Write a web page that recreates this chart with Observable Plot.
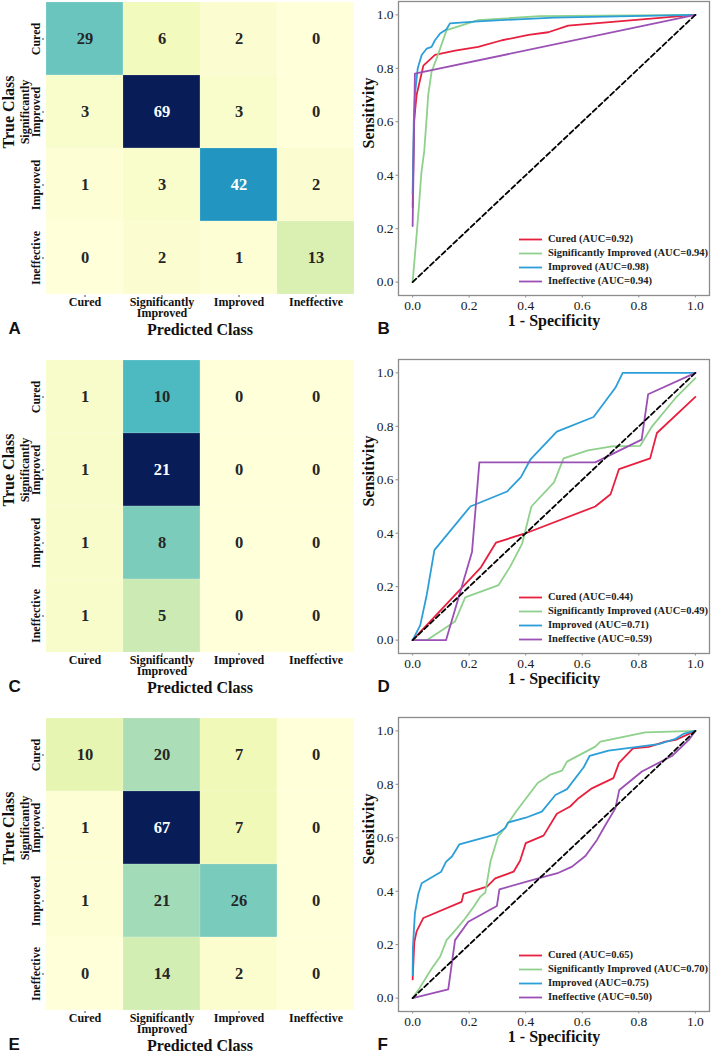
<!DOCTYPE html>
<html>
<head>
<meta charset="utf-8">
<script src="https://cdn.jsdelivr.net/npm/d3@7"></script>
<script src="https://cdn.jsdelivr.net/npm/@observablehq/plot@0.6"></script>
<style>
  body { margin: 0; background: #fff; }
  #page { position: relative; width: 711px; height: 1052px; overflow: hidden; background: #fff;
          font-family: "Liberation Serif", "Times New Roman", serif; }
  .panel { position: absolute; }
  .legend { position: absolute; font-family: "Liberation Serif", "Times New Roman", serif;
            font-weight: bold; font-size: 10.5px; color: #222; }
  .legend .row { position: absolute; left: 0; height: 14px; white-space: nowrap; }
  .legend svg { position: absolute; left: 0; top: 6px; }
  .legend span { position: absolute; left: 29px; top: 0; line-height: 14px; }
</style>
</head>
<body>
<div id="page"></div>
<script>
// Class names, shared by both axes of every confusion matrix and by the ROC legends
const classes = ["Cured", "Significantly Improved", "Improved", "Ineffective"];
const panelLetters = ["A", "B", "C", "D", "E", "F"];

// Confusion matrices (rows = true class, columns = predicted class)
const cmA = [[29, 6, 2, 0], [3, 69, 3, 0], [1, 3, 42, 2], [0, 2, 1, 13]];
const cmC = [[1, 10, 0, 0], [1, 21, 0, 0], [1, 8, 0, 0], [1, 5, 0, 0]];
const cmE = [[10, 20, 7, 0], [1, 67, 7, 0], [1, 21, 26, 0], [0, 14, 2, 0]];

// AUC per class for each ROC panel
const aucB = [0.92, 0.94, 0.98, 0.94];
const aucD = [0.44, 0.49, 0.71, 0.59];
const aucF = [0.65, 0.70, 0.75, 0.50];

// ROC curves as [1 - specificity, sensitivity] pairs
const rocBCured = [[0, 0.28], [0.005, 0.6], [0.014, 0.70], [0.038, 0.81], [0.079, 0.85], [0.15, 0.866], [0.232, 0.88], [0.316, 0.905], [0.41, 0.925], [0.48, 0.935], [0.55, 0.96], [1, 1]];
const rocBSig = [[0, 0], [0.012, 0.15], [0.022, 0.28], [0.031, 0.41], [0.041, 0.49], [0.05, 0.62], [0.055, 0.70], [0.067, 0.787], [0.085, 0.837], [0.12, 0.943], [0.232, 0.98], [0.45, 0.995], [1, 1]];
const rocBImp = [[0, 0.33], [0.004, 0.6], [0.008, 0.70], [0.018, 0.80], [0.032, 0.85], [0.05, 0.874], [0.067, 0.88], [0.079, 0.905], [0.097, 0.93], [0.12, 0.946], [0.132, 0.968], [0.232, 0.976], [0.5, 0.99], [1, 1]];
const rocBIneff = [[0, 0.21], [0.008, 0.78], [1, 1]];

const rocDCured = [[0, 0], [0.24, 0.27], [0.295, 0.365], [0.40, 0.40], [0.646, 0.5], [0.70, 0.546], [0.73, 0.64], [0.84, 0.68], [0.864, 0.775], [1, 0.91]];
const rocDSig = [[0, 0], [0.05, 0], [0.15, 0.07], [0.186, 0.16], [0.304, 0.206], [0.345, 0.275], [0.387, 0.36], [0.42, 0.5], [0.5, 0.59], [0.534, 0.68], [0.62, 0.71], [0.705, 0.725], [0.805, 0.727], [0.847, 0.8], [0.93, 0.906], [1, 0.98]];
const rocDImp = [[0, 0], [0.027, 0.056], [0.05, 0.17], [0.077, 0.337], [0.204, 0.5], [0.334, 0.556], [0.383, 0.61], [0.416, 0.675], [0.51, 0.78], [0.64, 0.835], [0.717, 0.944], [0.743, 1], [1, 1]];
const rocDIneff = [[0, 0], [0.118, 0], [0.21, 0.33], [0.236, 0.665], [0.646, 0.665], [0.81, 0.75], [0.833, 0.92], [1, 1]];

const rocFCured = [[0, 0.07], [0.006, 0.21], [0.014, 0.25], [0.038, 0.30], [0.173, 0.36], [0.18, 0.39], [0.263, 0.417], [0.292, 0.448], [0.357, 0.473], [0.38, 0.514], [0.40, 0.58], [0.463, 0.608], [0.51, 0.69], [0.557, 0.717], [0.587, 0.748], [0.634, 0.785], [0.71, 0.823], [0.73, 0.88], [0.78, 0.935], [0.835, 0.94], [0.894, 0.96], [0.93, 0.966], [1, 1]];
const rocFSig = [[0, 0], [0.02, 0.03], [0.067, 0.11], [0.097, 0.155], [0.12, 0.217], [0.156, 0.26], [0.185, 0.297], [0.216, 0.342], [0.24, 0.38], [0.257, 0.395], [0.275, 0.51], [0.302, 0.604], [0.322, 0.63], [0.366, 0.698], [0.443, 0.806], [0.469, 0.823], [0.485, 0.835], [0.528, 0.851], [0.546, 0.885], [0.646, 0.941], [0.664, 0.96], [0.823, 0.994], [1, 1]];
const rocFImp = [[0, 0.086], [0.001, 0.19], [0.008, 0.317], [0.02, 0.39], [0.032, 0.43], [0.101, 0.473], [0.118, 0.51], [0.139, 0.53], [0.165, 0.575], [0.298, 0.614], [0.328, 0.637], [0.337, 0.657], [0.4, 0.675], [0.457, 0.698], [0.505, 0.76], [0.546, 0.782], [0.605, 0.864], [0.626, 0.906], [0.693, 0.926], [0.87, 0.95], [0.93, 0.97], [0.96, 0.99], [1, 1]];
const rocFIneff = [[0, 0], [0.126, 0.033], [0.15, 0.217], [0.197, 0.286], [0.298, 0.345], [0.307, 0.407], [0.457, 0.452], [0.516, 0.469], [0.564, 0.492], [0.611, 0.532], [0.652, 0.592], [0.682, 0.648], [0.717, 0.71], [0.731, 0.779], [0.811, 0.848], [0.917, 0.906], [0.976, 0.965], [1, 1]];

const rocTicks = [0, 0.2, 0.4, 0.6, 0.8, 1.0];

// Styling
const curveColors = ["#e8203f", "#8fd18c", "#2c9fd9", "#9a50b4"];
const ylgnbu = ["#ffffd9", "#edf8b1", "#c7e9b4", "#7fcdbb", "#41b6c4", "#1d91c0", "#225ea8", "#253494", "#081d58"];
const serif = "'Liberation Serif', 'Times New Roman', serif";
const sans = "'Liberation Sans', Arial, sans-serif";
const rowTops = [0, 358, 716];
const PANEL_H = 345;
const FRAME_BOTTOM = 295;

const page = document.getElementById("page");
const wrap = (s) => s.replace(" ", "\n");

// relative luminance of a cell colour, used to pick dark or white annotation text
function luminance(c) {
  const {r, g, b} = d3.rgb(c);
  const lin = (v) => { v /= 255; return v <= 0.03928 ? v / 12.92 : Math.pow((v + 0.055) / 1.055, 2.4); };
  return 0.2126 * lin(r) + 0.7152 * lin(g) + 0.0722 * lin(b);
}

function heatmap(matrix, letter) {
  const cells = [];
  classes.forEach((t, i) => classes.forEach((p, j) => cells.push({t, p, v: matrix[i][j]})));
  const vmax = d3.max(cells, (d) => d.v);
  const interp = d3.piecewise(d3.interpolateRgb, ylgnbu);
  const textColor = (v) => (luminance(interp(v / vmax)) > 0.33 ? "#262626" : "white");
  return Plot.plot({
    width: 356, height: PANEL_H,
    marginLeft: 44, marginRight: 1, marginTop: 1, marginBottom: PANEL_H - FRAME_BOTTOM,
    style: {fontFamily: serif, fontSize: "12px", fontWeight: "bold", color: "#111", background: "transparent", overflow: "visible"},
    x: {domain: classes, padding: 0},
    y: {domain: classes, padding: 0},
    color: {type: "linear", domain: [0, vmax], interpolate: interp},
    marks: [
      Plot.cell(cells, {x: "p", y: "t", fill: "v", stroke: "white", strokeOpacity: 0.25, strokeWidth: 0.6}),
      Plot.text(cells, {x: "p", y: "t", text: (d) => String(d.v), fill: (d) => textColor(d.v), fontSize: 16.5, fontWeight: "bold"}),
      Plot.axisX({tickSize: 2, tickPadding: 1, tickFormat: wrap, lineHeight: 0.92, label: null, stroke: "#444", fontSize: 12}),
      Plot.axisY({tickSize: 2, tickPadding: 2.5, tickRotate: -90, tickFormat: wrap, lineHeight: 0.88, label: null, stroke: "#444", fontSize: 12}),
      Plot.text(["Predicted Class"], {frameAnchor: "bottom", dy: 39, lineAnchor: "bottom", fontSize: 16, fontWeight: "bold", fill: "#111"}),
      Plot.text(["True Class"], {frameAnchor: "left", dx: -42, rotate: -90, lineAnchor: "top", fontSize: 16, fontWeight: "bold", fill: "#111"}),
      Plot.text([letter], {frameAnchor: "bottom-left", dx: -36, dy: 38.5, lineAnchor: "bottom", textAnchor: "start", fontFamily: sans, fontSize: 17, fontWeight: "bold", fill: "#111"})
    ]
  });
}

function roc(curves, letter) {
  return Plot.plot({
    width: 355, height: PANEL_H,
    marginLeft: 43, marginRight: 1, marginTop: 1, marginBottom: PANEL_H - FRAME_BOTTOM,
    style: {fontFamily: serif, fontSize: "13px", color: "#111", background: "transparent", overflow: "visible"},
    x: {domain: [-0.05, 1.05]},
    y: {domain: [-0.05, 1.05]},
    marks: [
      Plot.axisX({ticks: rocTicks, tickFormat: ".1f", tickSize: 2.5, tickPadding: 2.5, label: null, stroke: "#8c8c8c", fill: "#1a1a1a", fontSize: 13.5}),
      Plot.axisY({ticks: rocTicks, tickFormat: ".1f", tickSize: 2.5, tickPadding: 2.5, label: null, stroke: "#8c8c8c", fill: "#1a1a1a", fontSize: 13.5}),
      ...curves.map((pts, i) => Plot.line(pts, {x: (d) => d[0], y: (d) => d[1], stroke: curveColors[i], strokeWidth: 1.8})),
      Plot.line([[0, 0], [1, 1]], {x: (d) => d[0], y: (d) => d[1], stroke: "black", strokeWidth: 1.8, strokeDasharray: "5,3"}),
      Plot.frame({stroke: "#8c8c8c", strokeWidth: 1.3}),
      Plot.text(["1 - Specificity"], {frameAnchor: "bottom", dy: 30, lineAnchor: "bottom", fontSize: 16, fontWeight: "bold", fill: "#111"}),
      Plot.text(["Sensitivity"], {frameAnchor: "left", dx: -36, rotate: -90, lineAnchor: "top", fontSize: 16, fontWeight: "bold", fill: "#111"}),
      Plot.text([letter], {frameAnchor: "bottom-left", dx: -21, dy: 38.5, lineAnchor: "bottom", textAnchor: "start", fontFamily: sans, fontSize: 17, fontWeight: "bold", fill: "#111"})
    ]
  });
}

function legend(aucs, top) {
  const div = document.createElement("div");
  div.className = "legend";
  div.style.left = "519px";
  div.style.top = top + "px";
  classes.forEach((c, i) => {
    const row = document.createElement("div");
    row.className = "row";
    row.style.top = i * 14 + "px";
    row.innerHTML = `<svg width="23" height="3"><line x1="0" x2="23" y1="1.5" y2="1.5" stroke="${curveColors[i]}" stroke-width="1.8"/></svg><span>${c} (AUC=${aucs[i].toFixed(2)})</span>`;
    div.appendChild(row);
  });
  return div;
}

function place(node, left, top) {
  const holder = document.createElement("div");
  holder.className = "panel";
  holder.style.left = left + "px";
  holder.style.top = top + "px";
  holder.appendChild(node);
  page.appendChild(holder);
}

const matrices = [cmA, cmC, cmE];
const rocSets = [
  [rocBCured, rocBSig, rocBImp, rocBIneff],
  [rocDCured, rocDSig, rocDImp, rocDIneff],
  [rocFCured, rocFSig, rocFImp, rocFIneff]
];
const aucSets = [aucB, aucD, aucF];

rowTops.forEach((top, r) => {
  place(heatmap(matrices[r], panelLetters[2 * r]), 0, top);
  place(roc(rocSets[r], panelLetters[2 * r + 1]), 355, top);
  page.appendChild(legend(aucSets[r], top + 232));
});
</script>
</body>
</html>
